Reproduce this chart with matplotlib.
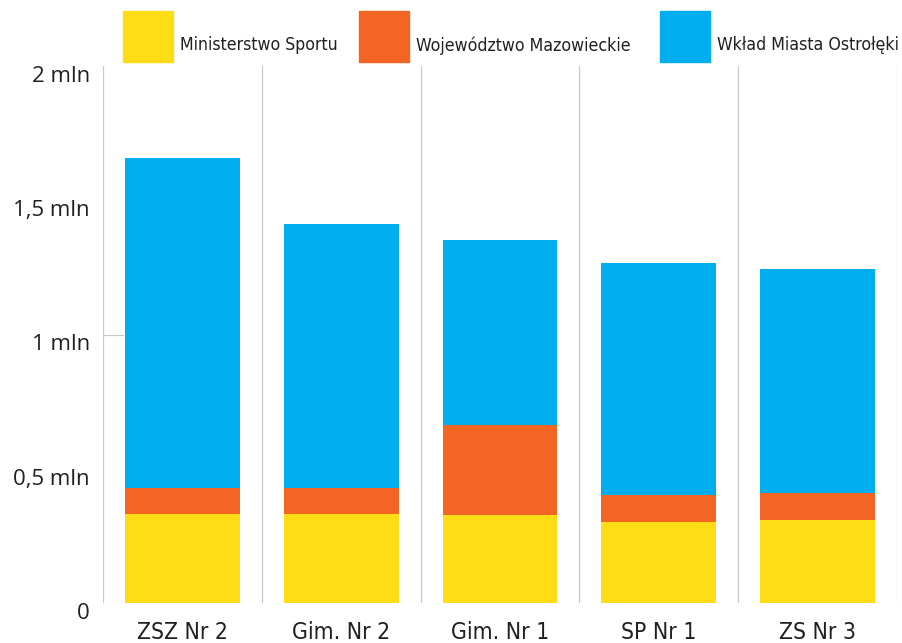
import matplotlib.pyplot as plt
from matplotlib.patches import Rectangle
from matplotlib.transforms import ScaledTranslation

# Dane: wkład finansowy (mln zł) dla poszczególnych szkół
schools = ['ZSZ Nr 2', 'Gim. Nr 2', 'Gim. Nr 1', 'SP Nr 1', 'ZS Nr 3']
ministry = [0.331, 0.331, 0.328, 0.302, 0.309]
voivodeship = [0.098, 0.098, 0.335, 0.100, 0.101]
city = [1.228, 0.982, 0.689, 0.864, 0.834]

series_names = ['Ministerstwo Sportu', 'Województwo Mazowieckie', 'Wkład Miasta Ostrołęki']
colors = ['#fedd16', '#f26522', '#00aeef']

ytick_values = [0, 0.5, 1, 1.5, 2]
ytick_labels = ['0', '0,5 mln', '1 mln', '1,5 mln', '2 mln']

text_color = '#231f20'
line_color = '#c8c8c8'

W, H = 902, 643
fig = plt.figure(figsize=(W / 100, H / 100), dpi=100)
ax = fig.add_axes([103 / W, 1 - 603 / H, 794 / W, 537 / H])

x = range(len(schools))
bottom2 = [a + b for a, b in zip(ministry, voivodeship)]
ax.bar(x, ministry, width=0.723, color=colors[0], zorder=2)
ax.bar(x, voivodeship, width=0.723, bottom=ministry, color=colors[1], zorder=2)
ax.bar(x, city, width=0.723, bottom=bottom2, color=colors[2], zorder=2)

# Pionowe linie oddzielające kategorie
for xv in [-0.5, 0.5, 1.5, 2.5, 3.5, 4.5]:
    ax.axvline(xv, color=line_color, linewidth=0.9, zorder=1)
ax.plot([-0.5, -0.5 + 20 / 159], [1, 1], color=line_color, linewidth=0.9, zorder=1)

ax.set_xlim(-0.5, 4.5)
ax.set_ylim(0, 2)
for s in ax.spines.values():
    s.set_visible(False)

ax.set_yticks(ytick_values)
ax.set_yticklabels(ytick_labels, family='Open Sans', fontsize=16, color=text_color)
ax.tick_params(axis='y', length=0, pad=9.5)
offset = ScaledTranslation(0, -8 / 100, fig.dpi_scale_trans)
for lab in ax.get_yticklabels():
    lab.set_transform(lab.get_transform() + offset)

ax.set_xticks(list(x))
ax.set_xticklabels(schools, family='DejaVu Sans', fontstretch='condensed',
                   fontsize=16.5, color=text_color)
ax.tick_params(axis='x', length=0, pad=13)

# Legenda rysowana ręcznie
legend_boxes = [123, 359, 660]
for bx, name, c in zip(legend_boxes, series_names, colors):
    fig.add_artist(Rectangle((bx / W, 1 - 62 / H), 50 / W, 51 / H,
                             transform=fig.transFigure, color=c))
    fig.text((bx + 57) / W, 1 - 45.5 / H, name, family='DejaVu Sans',
             fontstretch='condensed', fontsize=12.7,
             color=text_color, va='center', ha='left')

fig.savefig('out.png', dpi=100)
